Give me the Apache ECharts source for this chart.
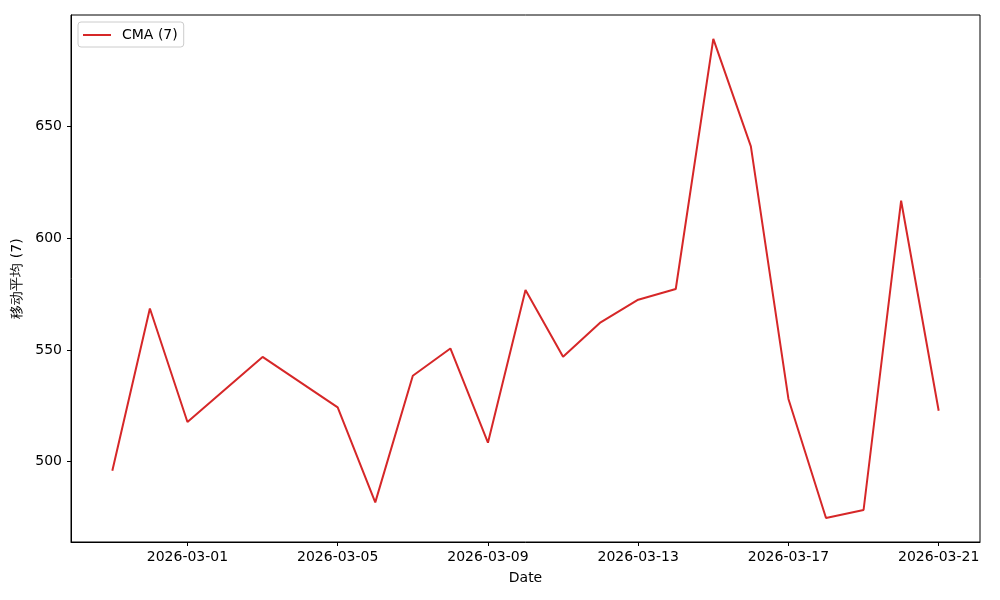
<!DOCTYPE html>
<html>
<head>
<meta charset="utf-8">
<script src="https://cdn.jsdelivr.net/npm/echarts@6/dist/echarts.min.js"></script>
<style>html,body{margin:0;padding:0;background:#fff}#c{width:1000px;height:600px}</style>
</head>
<body>
<div id="c"></div>
<script>
const dates = ['2026-02-27','2026-02-28','2026-03-01','2026-03-03','2026-03-05','2026-03-06','2026-03-07','2026-03-08','2026-03-09','2026-03-10','2026-03-11','2026-03-12','2026-03-13','2026-03-14','2026-03-15','2026-03-16','2026-03-17','2026-03-18','2026-03-19','2026-03-20','2026-03-21'];
const cmaValues = [496.0,568.6,517.8,546.9,524.3,481.8,538.5,550.7,508.5,576.9,547.0,562.4,572.5,577.3,689.2,641.1,528.1,474.8,478.4,616.8,522.8];
const xTickLabels = ['2026-03-01','2026-03-05','2026-03-09','2026-03-13','2026-03-17','2026-03-21'];
const yTickValues = [500,550,600,650];
const seriesName = 'CMA (7)';
const yAxisTitle = '移动平均 (7)';
const xAxisTitle = 'Date';

const DAY = 86400000;
const dayNum = s => Date.UTC(+s.slice(0,4), +s.slice(5,7)-1, +s.slice(8,10)) / DAY;
const xs = dates.map(dayNum);
const xSpan = xs[xs.length-1] - xs[0];
const xMin = xs[0] - 0.05*xSpan, xMax = xs[xs.length-1] + 0.05*xSpan;
const yLo = Math.min(...cmaValues), yHi = Math.max(...cmaValues);
const yMin = yLo - 0.05*(yHi-yLo), yMax = yHi + 0.05*(yHi-yLo);
const xTicks = xTickLabels.map(dayNum);
const pad = n => String(n).padStart(2,'0');
const fmt = v => { const d = new Date(Math.round(v)*DAY); return d.getUTCFullYear()+'-'+pad(d.getUTCMonth()+1)+'-'+pad(d.getUTCDate()); };

const font = 'DejaVu Sans';
const fs = 14;
const chart = echarts.init(document.getElementById('c'), null, {renderer:'canvas'});
chart.setOption({
  animation:false,
  backgroundColor:'#fff',
  textStyle:{fontFamily:font},
  grid:{left:71,right:20,top:15,bottom:58,show:true,borderColor:'#000',borderWidth:1,backgroundColor:'transparent'},
  legend:{
    left:78, top:22, padding:[6,6,5,5],
    borderColor:'#cccccc', borderWidth:1, borderRadius:3, backgroundColor:'#fff',
    icon:'rect', itemWidth:28, itemHeight:2, itemGap:8,
    textStyle:{fontFamily:font,fontSize:fs,color:'#000',padding:[0,0,0,6]},
    data:[{name:seriesName}]
  },
  xAxis:{
    type:'value', min:xMin, max:xMax,
    name:xAxisTitle, nameLocation:'middle', nameGap:29,
    nameTextStyle:{fontFamily:font,fontSize:fs,color:'#000'},
    axisLine:{show:true,lineStyle:{color:'#000',width:1}},
    axisTick:{show:true,length:4,lineStyle:{color:'#000'},customValues:xTicks},
    axisLabel:{show:true,margin:8,color:'#000',fontSize:fs,fontFamily:font,customValues:xTicks,formatter:v=>fmt(v)},
    splitLine:{show:false}
  },
  yAxis:{
    type:'value', min:yMin, max:yMax,
    name:yAxisTitle, nameLocation:'middle', nameRotate:90, nameGap:38,
    nameTextStyle:{fontFamily:font,fontSize:fs,color:'#000'},
    axisLine:{show:true,lineStyle:{color:'#000',width:1}},
    axisTick:{show:true,length:4,lineStyle:{color:'#000'},customValues:yTickValues},
    axisLabel:{show:true,margin:9,color:'#000',fontSize:fs,fontFamily:font,customValues:yTickValues},
    splitLine:{show:false}
  },
  series:[{
    name:seriesName, type:'line',
    data:xs.map((x,i)=>[x,cmaValues[i]]),
    showSymbol:false, symbol:'none',
    lineStyle:{color:'#d62728',width:2},
    itemStyle:{color:'#d62728'}
  }]
});
</script>
</body>
</html>
